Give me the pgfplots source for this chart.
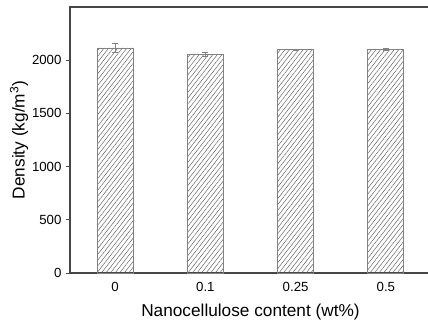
\documentclass[border=0pt]{standalone}
\usepackage{pgfplots}
\pgfplotsset{compat=1.18}
\usepackage{fontspec}
\setmainfont{Liberation Sans}
\usetikzlibrary{patterns.meta}
\definecolor{axisgray}{RGB}{70,70,70}
\definecolor{bargray}{RGB}{130,130,130}
\definecolor{hatchgray}{RGB}{90,90,90}
\begin{document}
\begin{tikzpicture}
\begin{axis}[
  /pgf/number format/assume math mode=true,
  scale only axis,
  width=361bp, height=266bp,
  xmin=-0.5, xmax=3.5,
  ymin=0, ymax=2500,
  xtick={0,1,2,3},
  xticklabels={0,0.1,0.25,0.5},
  ytick={0,500,1000,1500,2000},
  yticklabel style={/pgf/number format/1000 sep={}},
  major x tick style={draw=none},
  tick align=outside,
  major tick length=4bp,
  ytick style={axisgray, line width=0.8pt},
  axis line style={axisgray, line width=1.1pt},
  ticklabel style={font=\fontsize{13.3}{15}\selectfont},
  xticklabel style={yshift=-2bp},
  yticklabel style={xshift=-1bp},
  xlabel={Nanocellulose content (wt\%)},
  ylabel={Density (kg/m\textsuperscript{3})},
  label style={font=\fontsize{17.3}{20}\selectfont},
  xlabel style={yshift=-5bp},
  ylabel style={yshift=-3bp},
  ybar, bar width=0.4,
  clip=false,
]
\addplot[
  draw=bargray, line width=0.9pt,
  pattern={Lines[angle=52,distance=3.6pt,line width=0.45pt]},
  pattern color=hatchgray,
  error bars/.cd, y dir=both, y explicit,
  error bar style={bargray, line width=0.6pt},
  error mark options={rotate=90, mark size=3bp, bargray, line width=0.6pt},
] coordinates {
  (0,2115) +- (0,40)
  (1,2055) +- (0,15)
  (2,2100) +- (0,3)
  (3,2100) +- (0,10)
};
\end{axis}
\pgfresetboundingbox
\path (-70bp,-54bp) rectangle (358bp,273bp);
\end{tikzpicture}
\end{document}
